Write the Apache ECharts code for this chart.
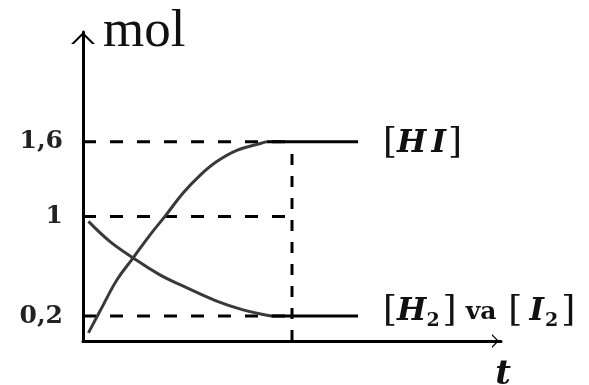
<!DOCTYPE html>
<html>
<head>
<meta charset="utf-8">
<script src="https://cdn.jsdelivr.net/npm/echarts@6/dist/echarts.min.js"></script>
<style>html,body{margin:0;padding:0;background:#fff}#c{width:589px;height:385px}</style>
</head>
<body>
<div id="c"></div>
<script>
// Data
const hiT = [0.13, 0.47, 0.81, 1.2, 1.6, 1.96, 2.4, 2.8, 3.2, 3.68, 4.24, 4.4];
const hiY = [0.065, 0.28, 0.49, 0.667, 0.85, 1.0, 1.19, 1.33, 1.44, 1.53, 1.585, 1.6];
const h2T = [0.13, 0.64, 1.2, 1.83, 2.4, 3.2, 3.83, 4.5];
const h2Y = [0.96, 0.8, 0.667, 0.533, 0.44, 0.32, 0.25, 0.2];
const hiFlatT = [4.4, 6.58];
const hiFlatY = [1.6, 1.6];
const h2FlatT = [4.5, 6.58];
const h2FlatY = [0.2, 0.2];
const guideLevels = [1.6, 1, 0.2];
const guideT = 5;
const yTickValues = [0.2, 1, 1.6];
const yTickLabels = ['0,2', '1', '1,6'];
const labelHI = '{b|[}{i|H}{I|I}{b|]}';
const labelH2 = '{b|[}{i|H}{s|2}{b|]}{v|va}{b|[}{J|I}{s|2}{b|]}';
const yName = 'mol';
const xName = 't';

const zip = (a, b) => a.map((v, i) => [v, b[i]]);
const chevron = 'path://M0,10 L10,0 L20,10 L17.6,10 L10,2.6 L2.4,10 Z';

const base = { fontFamily: 'DejaVu Serif', color: '#111' };
const richStyle = {
  b: { ...base, fontSize: 36 },
  i: { ...base, fontSize: 31, fontWeight: 'bold', fontStyle: 'italic' },
  I: { ...base, fontSize: 31, fontWeight: 'bold', fontStyle: 'italic', padding: [0, 2, 0, 5] },
  J: { ...base, fontSize: 31, fontWeight: 'bold', fontStyle: 'italic', padding: [0, 1, 0, 7] },
  s: { ...base, fontSize: 19, fontWeight: 'bold', verticalAlign: 'bottom', padding: [0, 3, 0, 0] },
  v: { ...base, fontSize: 25, fontWeight: 'bold', padding: [0, 12, 0, 9] }
};

const dashedSeries = guideLevels.map(v => ({
  type: 'line', silent: true, symbol: 'none',
  data: [[0, v], [guideT, v]],
  lineStyle: { color: '#000', width: 3, type: [13, 14] }
}));

const chart = echarts.init(document.getElementById('c'));
chart.setOption({
  animation: false,
  backgroundColor: '#fff',
  grid: { left: 83, right: 88, top: 32, bottom: 44, containLabel: false, outerBoundsMode: 'none' },
  xAxis: {
    type: 'value', min: 0, max: 10,
    name: xName, nameLocation: 'end', nameGap: 0,
    nameTextStyle: { fontFamily: 'DejaVu Serif', fontStyle: 'italic', fontWeight: 'bold', fontSize: 34, color: '#111', align: 'center', verticalAlign: 'top', padding: [17, 0, 0, 4] },
    axisLine: { lineStyle: { color: '#000', width: 3 }, symbol: ['none', chevron], symbolSize: [14, 11], symbolOffset: [0, -5.5] },
    axisTick: { show: false }, axisLabel: { show: false }, splitLine: { show: false }
  },
  yAxis: {
    type: 'value', min: 0, max: 2.48,
    name: yName, nameLocation: 'end', nameGap: 0,
    nameTextStyle: { fontFamily: 'Liberation Serif', fontSize: 53, color: '#111', align: 'left', verticalAlign: 'middle', padding: [0, 0, 0, 20] },
    axisLine: { onZero: false, lineStyle: { color: '#000', width: 3 }, symbol: ['none', chevron], symbolSize: [24, 12], symbolOffset: [0, -6] },
    axisTick: { show: false }, splitLine: { show: false },
    axisLabel: {
      customValues: yTickValues, margin: 20,
      fontFamily: 'DejaVu Serif', fontWeight: 'bold', fontSize: 25, color: '#222',
      formatter: v => { const i = yTickValues.findIndex(t => Math.abs(t - v) < 1e-6); return i >= 0 ? yTickLabels[i] : ''; }
    }
  },
  series: [
    ...dashedSeries,
    { type: 'line', silent: true, symbol: 'none', data: [[guideT, 0], [guideT, guideLevels[0]]],
      lineStyle: { color: '#000', width: 3, type: [11, 11] } },
    { type: 'line', symbol: 'none', smooth: 0.4, data: zip(hiT, hiY),
      lineStyle: { color: '#3a3a3a', width: 3 } },
    { type: 'line', symbol: 'none', smooth: 0.4, data: zip(h2T, h2Y),
      lineStyle: { color: '#3a3a3a', width: 3 } },
    { type: 'line', symbol: 'none', data: zip(hiFlatT, hiFlatY),
      lineStyle: { color: '#000', width: 3 },
      endLabel: { show: true, distance: 25, formatter: labelHI, rich: richStyle, offset: [0, 2] } },
    { type: 'line', symbol: 'none', data: zip(h2FlatT, h2FlatY),
      lineStyle: { color: '#000', width: 3 },
      endLabel: { show: true, distance: 25, formatter: labelH2, rich: richStyle, offset: [0, -4] } }
  ]
});
</script>
</body>
</html>
